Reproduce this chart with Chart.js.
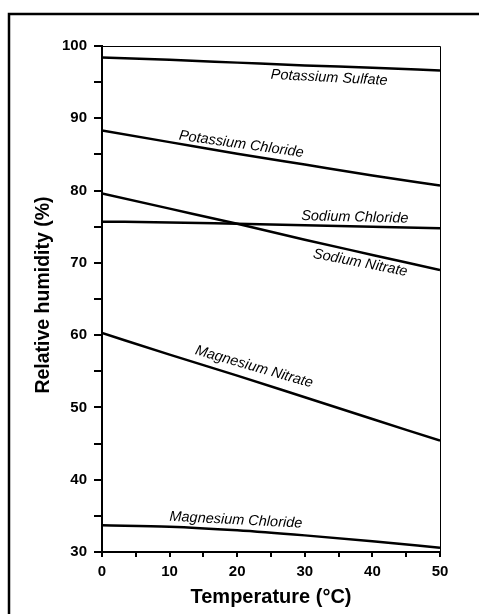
<!DOCTYPE html>
<html>
<head>
<meta charset="UTF-8">
<title>Relative humidity over saturated salts</title>
<script src="https://cdn.jsdelivr.net/npm/chart.js@4.4.1/dist/chart.umd.min.js"></script>
<style>
  body{ margin:0; background:#fff; }
  canvas{ display:block; }
</style>
</head>
<body>
<canvas id="rh" width="479" height="614"></canvas>
<script>
// temperature, deg C
const temps = [0, 10, 20, 30, 40, 50];

// relative humidity (%)
const potassiumSulfate   = [98.4, 98.1, 97.7, 97.3, 97.0, 96.6];
const potassiumChloride  = [88.3, 86.7, 85.1, 83.6, 82.1, 80.7];
const sodiumChloride     = [75.7, 75.6, 75.4, 75.2, 75.0, 74.8];
const sodiumNitrate      = [79.6, 77.5, 75.4, 73.2, 71.1, 69.0];
const magnesiumNitrate   = [60.3, 57.3, 54.4, 51.4, 48.4, 45.4];
const magnesiumChloride  = [33.7, 33.5, 33.0, 32.3, 31.5, 30.6];

const seriesNames = ["Potassium Sulfate", "Potassium Chloride", "Sodium Chloride",
                     "Sodium Nitrate", "Magnesium Nitrate", "Magnesium Chloride"];
const seriesValues = [potassiumSulfate, potassiumChloride, sodiumChloride,
                      sodiumNitrate, magnesiumNitrate, magnesiumChloride];

// where each curve's name sits (data units) and its tilt in degrees
const labelX     = [33.6, 20.6, 37.4, 38.2, 22.5, 19.8];
const labelY     = [95.6, 86.4, 76.3, 70.0, 55.6, 34.4];
const labelAngle = [3, 8, 1.5, 11, 16, 3];

const xTicks = [0, 10, 20, 30, 40, 50];
const yTicks = [30, 40, 50, 60, 70, 80, 90, 100];

const datasets = seriesValues.map((vals, i) => ({
    label: seriesNames[i],
    data: temps.map((t, j) => ({x: t, y: vals[j]})),
    borderColor: "#000",
    borderWidth: 2.5,
    pointRadius: 0,
    fill: false,
    cubicInterpolationMode: "monotone"
}));

const decor = {
    id: "decor",
    afterDraw(chart){
        const ctx = chart.ctx;
        const a = chart.chartArea;
        const xs = chart.scales.x, ys = chart.scales.y;
        ctx.save();
        // thin frame on top and right
        ctx.strokeStyle = "#000";
        ctx.lineWidth = 1;
        ctx.beginPath();
        ctx.moveTo(a.left, a.top + 0.5);
        ctx.lineTo(a.right + 0.5, a.top + 0.5);
        ctx.lineTo(a.right + 0.5, a.bottom);
        ctx.stroke();
        // outer box (cut off at right and bottom)
        ctx.lineWidth = 2.5;
        ctx.beginPath();
        ctx.moveTo(9, 640);
        ctx.lineTo(9, 14);
        ctx.lineTo(500, 14);
        ctx.stroke();
        // curve names
        ctx.fillStyle = "#000";
        ctx.font = "italic 14.5px 'Liberation Sans', Arial, sans-serif";
        ctx.textAlign = "center";
        ctx.textBaseline = "middle";
        seriesNames.forEach((name, i) => {
            ctx.save();
            ctx.translate(xs.getPixelForValue(labelX[i]), ys.getPixelForValue(labelY[i]));
            ctx.rotate(labelAngle[i] * Math.PI / 180);
            ctx.fillText(name, 0, 0);
            ctx.restore();
        });
        // axis titles
        ctx.textBaseline = "alphabetic";
        ctx.font = "bold 20px 'Liberation Sans', Arial, sans-serif";
        ctx.fillText("Temperature (°C)", 271, 603);
        ctx.font = "bold 19.5px 'Liberation Sans', Arial, sans-serif";
        ctx.save();
        ctx.translate(49, 295);
        ctx.rotate(-Math.PI / 2);
        ctx.fillText("Relative humidity (%)", 0, 0);
        ctx.restore();
        ctx.restore();
    }
};

const tickFont = {family: "'Liberation Sans', Arial, sans-serif", size: 15, weight: "bold"};

new Chart(document.getElementById("rh"), {
    type: "line",
    data: {datasets: datasets},
    options: {
        responsive: false,
        animation: false,
        layout: {padding: {top: 46, right: 39, left: 0, bottom: 0}},
        plugins: {legend: {display: false}, tooltip: {enabled: false}},
        scales: {
            x: {
                type: "linear", min: 0, max: 50,
                afterFit(s){ s.height = 62; },
                afterBuildTicks(s){
                    s.ticks = [];
                    for (let v = 0; v <= 50; v += 5) s.ticks.push({value: v});
                },
                ticks: {
                    autoSkip: false, color: "#000", font: tickFont, padding: 6,
                    maxRotation: 0,
                    callback: v => xTicks.includes(v) ? String(v) : ""
                },
                grid: {drawOnChartArea: false, drawTicks: true, tickLength: 5, color: "#000", lineWidth: 2},
                border: {display: true, color: "#000", width: 2}
            },
            y: {
                type: "linear", min: 30, max: 100,
                afterFit(s){ s.width = 102; },
                afterBuildTicks(s){
                    s.ticks = [];
                    for (let v = 30; v <= 100; v += 5) s.ticks.push({value: v});
                },
                ticks: {
                    autoSkip: false, color: "#000", font: tickFont, padding: 7,
                    callback: v => yTicks.includes(v) ? String(v) : ""
                },
                grid: {drawOnChartArea: false, drawTicks: true, tickLength: 8, color: "#000", lineWidth: 2},
                border: {display: true, color: "#000", width: 2}
            }
        }
    },
    plugins: [decor]
});
</script>
</body>
</html>
